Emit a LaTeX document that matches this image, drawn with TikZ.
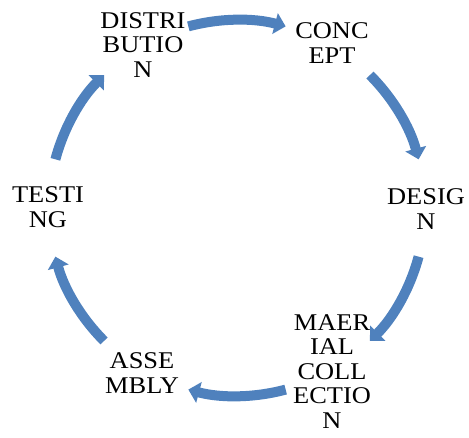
\documentclass[tikz,border=0pt]{standalone}
\usepackage{fontspec}
\setmainfont[FakeStretch=1.1]{Liberation Serif}
\usetikzlibrary{arrows.meta}
\definecolor{cycblue}{RGB}{79,129,189}
\tikzset{
  lbl/.style={inner sep=0pt, align=center, font=\fontsize{24pt}{24.5pt}\selectfont, text=black},
  cyc/.style={draw=cycblue, line width=10pt, -{Triangle[length=11pt,width=21pt]}}
}
\begin{document}
\begin{tikzpicture}[x=1pt,y=1pt]
\useasboundingbox (0,0) rectangle (469,438);
\coordinate (O) at (237,230);
\node[lbl] (dist) at (143,393) {DISTRI\\BUTIO\\N};
\node[lbl] (conc) at (332,395) {CONC\\EPT};
\node[lbl] (desig) at (426,229) {DESIG\\N};
\node[lbl] (mat) at (332,66.5) {MAER\\IAL\\COLL\\ECTIO\\N};
\node[lbl] (asse) at (142,65) {ASSE\\MBLY};
\node[lbl] (test) at (48,231) {TESTI\\NG};
\foreach \c in {90,30,-30,-90,-150,150}{
  \draw[cyc] ([shift={(\c+15:188)}]O) arc[start angle=\c+15, end angle=\c-15, radius=188];
}
\end{tikzpicture}
\end{document}
